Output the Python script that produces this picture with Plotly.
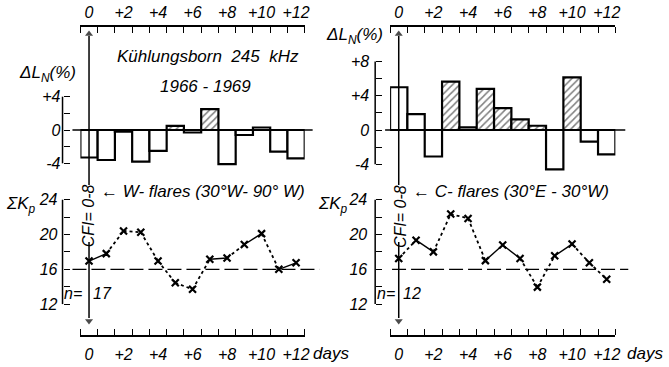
import plotly.graph_objects as go

W, H = 669, 367

days = list(range(13))
top_tick_vals = [0, 2, 4, 6, 8, 10, 12]
top_tick_text = ["0", "+2", "+4", "+6", "+8", "+10", "+12"]

# Delta L_N (%) bars
dln_w = [-3.3, -3.6, -0.2, -3.8, -2.5, 0.5, -0.3, 2.5, -4.1, -0.6, 0.3, -2.6, -3.4]
dln_w_hatched = [0, 0, 0, 0, 0, 1, 0, 1, 0, 0, 0, 0, 0]
dln_c = [5.0, 1.85, -3.1, 5.65, 0.3, 4.8, 2.55, 1.25, 0.5, -4.6, 6.15, -1.35, -2.85]
dln_c_hatched = [0, 0, 0, 1, 0, 1, 1, 1, 1, 0, 1, 0, 0]

# Sum Kp
kp_w = [16.95, 17.8, 20.4, 20.25, 16.95, 14.45, 13.7, 17.15, 17.3, 18.85, 20.1, 16.0, 16.75]
kp_w_solid = [1, 0, 0, 0, 0, 0, 0, 1, 0, 1, 0, 1]
kp_c = [17.25, 19.35, 18.0, 22.35, 21.85, 17.0, 18.8, 17.25, 13.95, 17.55, 18.9, 16.75, 14.85]
kp_c_solid = [0, 1, 0, 0, 0, 1, 1, 0, 0, 1, 0, 0]

dl_w_ticks, dl_w_text, dl_w_minor = [-4, 0, 4], ["-4", "0", "+4"], [-2, 2]
dl_c_ticks, dl_c_text, dl_c_minor = [-4, 0, 4, 8], ["-4", "0", "+4", "+8"], [-2, 2, 6]
kp_ticks, kp_text, kp_minor = [12, 16, 20, 24], ["12", "16", "20", "24"], [14, 18, 22]


def px(x):
    return x / W


def py(y):
    return 1 - y / H


FONT = dict(family="Liberation Sans", size=16, color="black", style="italic")

fig = go.Figure()


def bars(vals, hatched, xa, ya):
    fig.add_trace(go.Bar(
        x=days, y=vals, width=1, xaxis=xa, yaxis=ya,
        marker=dict(color="white", line=dict(color="black", width=2.2),
                    pattern=dict(shape=["/" if h else "" for h in hatched],
                                 fgcolor="black", bgcolor="white", size=5, solidity=0.3)),
        showlegend=False, hoverinfo="skip"))


def kp_line(vals, solid, xa, ya):
    for want, dash in ((1, "solid"), (0, "dot")):
        xs, ys = [], []
        for i, s in enumerate(solid):
            if s == want:
                xs += [days[i], days[i + 1], None]
                ys += [vals[i], vals[i + 1], None]
        fig.add_trace(go.Scatter(x=xs, y=ys, mode="lines", xaxis=xa, yaxis=ya,
                                 line=dict(color="black", width=1.8 if dash == "dot" else 1.4, dash=dash),
                                 showlegend=False, hoverinfo="skip"))
    fig.add_trace(go.Scatter(x=days, y=vals, mode="markers", xaxis=xa, yaxis=ya,
                             marker=dict(symbol="x-thin", size=7, line=dict(color="black", width=2.2)),
                             showlegend=False, hoverinfo="skip"))


bars(dln_w, dln_w_hatched, "x", "y")
bars(dln_c, dln_c_hatched, "x2", "y2")
kp_line(kp_w, kp_w_solid, "x3", "y3")
kp_line(kp_c, kp_c_solid, "x4", "y4")

minor = dict(tickvals=[d - 0.5 for d in range(14)], ticks="inside", ticklen=6,
             tickwidth=1.3, tickcolor="black")


def xax(dom, side, anchor):
    return dict(domain=[px(dom[0]), px(dom[1])], range=[-0.5, 12.5], side=side, anchor=anchor,
                showline=True, linecolor="black", linewidth=1.5, showgrid=False, zeroline=False,
                tickvals=top_tick_vals, ticktext=top_tick_text, ticks="", minor=minor,
                tickfont=dict(size=16), ticklabelstandoff=1 if side == "top" else 4)


def yax(dom, rng, pos, tv, tt, mv, standoff):
    return dict(domain=[py(dom[1]), py(dom[0])], range=rng, anchor="free", position=px(pos),
                showline=False, showgrid=False, zeroline=False, tickvals=tv, ticktext=tt,
                ticks="inside", ticklen=6, tickwidth=1.3, tickcolor="black",
                minor=dict(tickvals=mv, ticks="inside", ticklen=6, tickwidth=1.3,
                           tickcolor="black", showgrid=False),
                tickfont=dict(size=16), ticklabelstandoff=standoff)


TOP = (27, 180)
BOT = (180, 335)
s_l, s_r, s_k = 8.33, 8.55, 8.7
rng_l = [-(180 - 130) / s_l, (130 - 27) / s_l]
rng_r = [-(180 - 130) / s_r, (130 - 27) / s_r]
rng_k = [16 - (335 - 269.3) / s_k, 16 + (269.3 - 180) / s_k]
fig.update_layout(
    width=W, height=H, margin=dict(l=0, r=0, t=0, b=0),
    plot_bgcolor="white", paper_bgcolor="white", font=FONT, barmode="overlay",
    xaxis=xax((81, 307), "top", "y"),
    xaxis2=xax((393, 620), "top", "y2"),
    xaxis3=xax((81, 307), "bottom", "y3"),
    xaxis4=xax((393, 620), "bottom", "y4"),
    yaxis=yax(TOP, rng_l, 63, dl_w_ticks, dl_w_text, dl_w_minor, 2),
    yaxis2=yax(TOP, rng_r, 378, dl_c_ticks, dl_c_text, dl_c_minor, 6),
    yaxis3=yax(BOT, rng_k, 63, kp_ticks, kp_text, kp_minor, 5),
    yaxis4=yax(BOT, rng_k, 378, kp_ticks, kp_text, kp_minor, 8),
)

shapes = []
ln = dict(color="black", width=1.5)
# zero lines
shapes.append(dict(type="line", xref="paper", yref="y", x0=px(73), x1=px(315), y0=0, y1=0, line=ln))
shapes.append(dict(type="line", xref="paper", yref="y2", x0=px(388), x1=px(630), y0=0, y1=0, line=ln))
# bracket axis lines
shapes.append(dict(type="line", xref="paper", yref="y", x0=px(63), x1=px(63), y0=-4, y1=4, line=ln))
shapes.append(dict(type="line", xref="paper", yref="y2", x0=px(378), x1=px(378), y0=-4, y1=8, line=ln))
shapes.append(dict(type="line", xref="paper", yref="y3", x0=px(63), x1=px(63), y0=12, y1=24, line=ln))
shapes.append(dict(type="line", xref="paper", yref="y4", x0=px(378), x1=px(378), y0=12, y1=24, line=ln))
# dashed 16 lines
dl = dict(color="black", width=1.2, dash="14px,5px")
shapes.append(dict(type="line", xref="paper", yref="y3", x0=px(73), x1=px(322), y0=16, y1=16, line=dl))
shapes.append(dict(type="line", xref="paper", yref="y4", x0=px(395), x1=px(633), y0=16, y1=16, line=dl))
# vertical "day 0" arrow shafts
for xr in ("x", "x2"):
    shapes.append(dict(type="line", xref=xr, yref="paper", x0=0, x1=0, y0=py(36), y1=py(185),
                       line=dict(color="black", width=1.5)))
for xr in ("x3", "x4"):
    shapes.append(dict(type="line", xref=xr, yref="paper", x0=0, x1=0, y0=py(242), y1=py(318),
                       line=dict(color="black", width=1.5)))
fig.update_layout(shapes=shapes)

# arrow heads (markers at the shaft ends)
head_top = (130 - 34) / s_l
head_top_r = (130 - 34) / s_r
head_bot = 16 - (321 - 269.3) / s_k
for xa, ya, yv, sym in (("x", "y", head_top, "triangle-up"), ("x2", "y2", head_top_r, "triangle-up"),
                        ("x3", "y3", head_bot, "triangle-down"), ("x4", "y4", head_bot, "triangle-down")):
    fig.add_trace(go.Scatter(x=[0], y=[yv], mode="markers", xaxis=xa, yaxis=ya,
                             marker=dict(symbol=sym, size=[7], color="black",
                                         line=dict(width=0)),
                             showlegend=False, hoverinfo="skip", cliponaxis=False))

ann = []


def text(t, x, y, xanchor="center", size=16, angle=0):
    ann.append(dict(text=t, x=px(x), y=py(y), xref="paper", yref="paper", showarrow=False,
                    xanchor=xanchor, yanchor="middle", font=dict(size=size), textangle=angle))


text("Kühlungsborn  245  kHz", 210, 57, size=17)
text("1966 - 1969", 207, 86, size=17)
text("ΔL<sub>N</sub>(%)", 17, 74, xanchor="left", size=17)
text("ΔL<sub>N</sub>(%)", 326, 36, xanchor="left", size=17)
text("ΣK<sub>p</sub>", 4, 205, xanchor="left", size=17)
text("ΣK<sub>p</sub>", 318, 205, xanchor="left", size=17)
text("← W- flares (30°W- 90° W)", 100, 192, xanchor="left", size=17)
text("← C- flares (30°E - 30°W)", 414, 192, xanchor="left", size=17)
text("CFI= 0-8", 89, 216, size=16, angle=-90)
text("CFI= 0-8", 403, 216, size=16, angle=-90)
text("n=", 85, 293, xanchor="right", size=16)
text("17", 92, 293, xanchor="left", size=16)
text("n=", 400, 293, xanchor="right", size=16)
text("12", 404, 293, xanchor="left", size=16)
text("days", 313, 353, xanchor="left", size=17)
text("days", 630, 353, xanchor="left", size=17)
fig.update_layout(annotations=ann)

fig.write_html("out.html", config={"displayModeBar": False},
               post_script="document.body.style.margin='0';document.body.style.padding='0';")
